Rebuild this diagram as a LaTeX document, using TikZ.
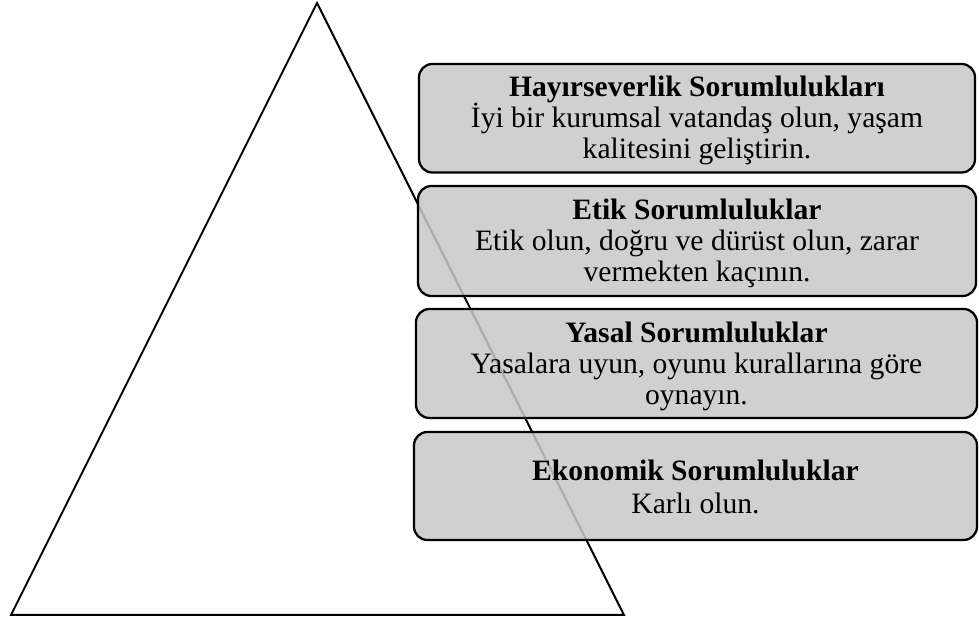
\documentclass[tikz,border=0pt]{standalone}
\usepackage{fontspec}
\setmainfont{Liberation Serif}
\begin{document}
\begin{tikzpicture}[x=0.75pt,y=-0.75pt,
  pyramid/.style={draw=black, line width=1.5pt, line join=miter},
  layer/.style={draw=black, line width=1.7pt, rounded corners=10pt,
    fill={rgb,255:red,200;green,200;blue,200}, fill opacity=0.85,
    text opacity=1, align=center, inner sep=0pt,
    font=\fontsize{22.2}{23.3}\selectfont}]
  \useasboundingbox (0,0) rectangle (979,623);

  % pyramid outline
  \coordinate (apex) at (317,3);
  \coordinate (baseL) at (11,615);
  \coordinate (baseR) at (624,615);
  \draw[pyramid] (apex) -- (baseR) -- (baseL) -- cycle;

  % responsibility layers
  \node[layer, minimum width=417pt, minimum height=81.4pt] (hayir) at (697,118.25) {};
  \node[align=center, font=\fontsize{22.2}{23.3}\selectfont] (hayirtxt) at (697,120.5)
    {\textbf{Hayırseverlik Sorumlulukları}\\İyi bir kurumsal vatandaş olun, yaşam\\kalitesini geliştirin.};
  \node[layer, minimum width=418.5pt, minimum height=82.5pt] (etik) at (697,241) {};
  \node[align=center, font=\fontsize{22.2}{23.3}\selectfont] (etiktxt) at (697,243.5)
    {\textbf{Etik Sorumluluklar}\\Etik olun, doğru ve dürüst olun, zarar\\vermekten kaçının.};
  \node[layer, minimum width=420.75pt, minimum height=81.75pt] (yasal) at (696.5,363.5) {};
  \node[align=center, font=\fontsize{22.2}{23.3}\selectfont] (yasaltxt) at (696.5,366)
    {\textbf{Yasal Sorumluluklar}\\Yasalara uyun, oyunu kurallarına göre\\oynayın.};
  \node[layer, minimum width=422.25pt, minimum height=81pt] (ekonomik) at (695.5,486) {};
  \node[align=center, font=\fontsize{22.2}{23.3}\selectfont] (ekonomiktxt) at (695.5,487)
    {\textbf{Ekonomik Sorumluluklar}\\[2pt]Karlı olun.};
\end{tikzpicture}
\end{document}
